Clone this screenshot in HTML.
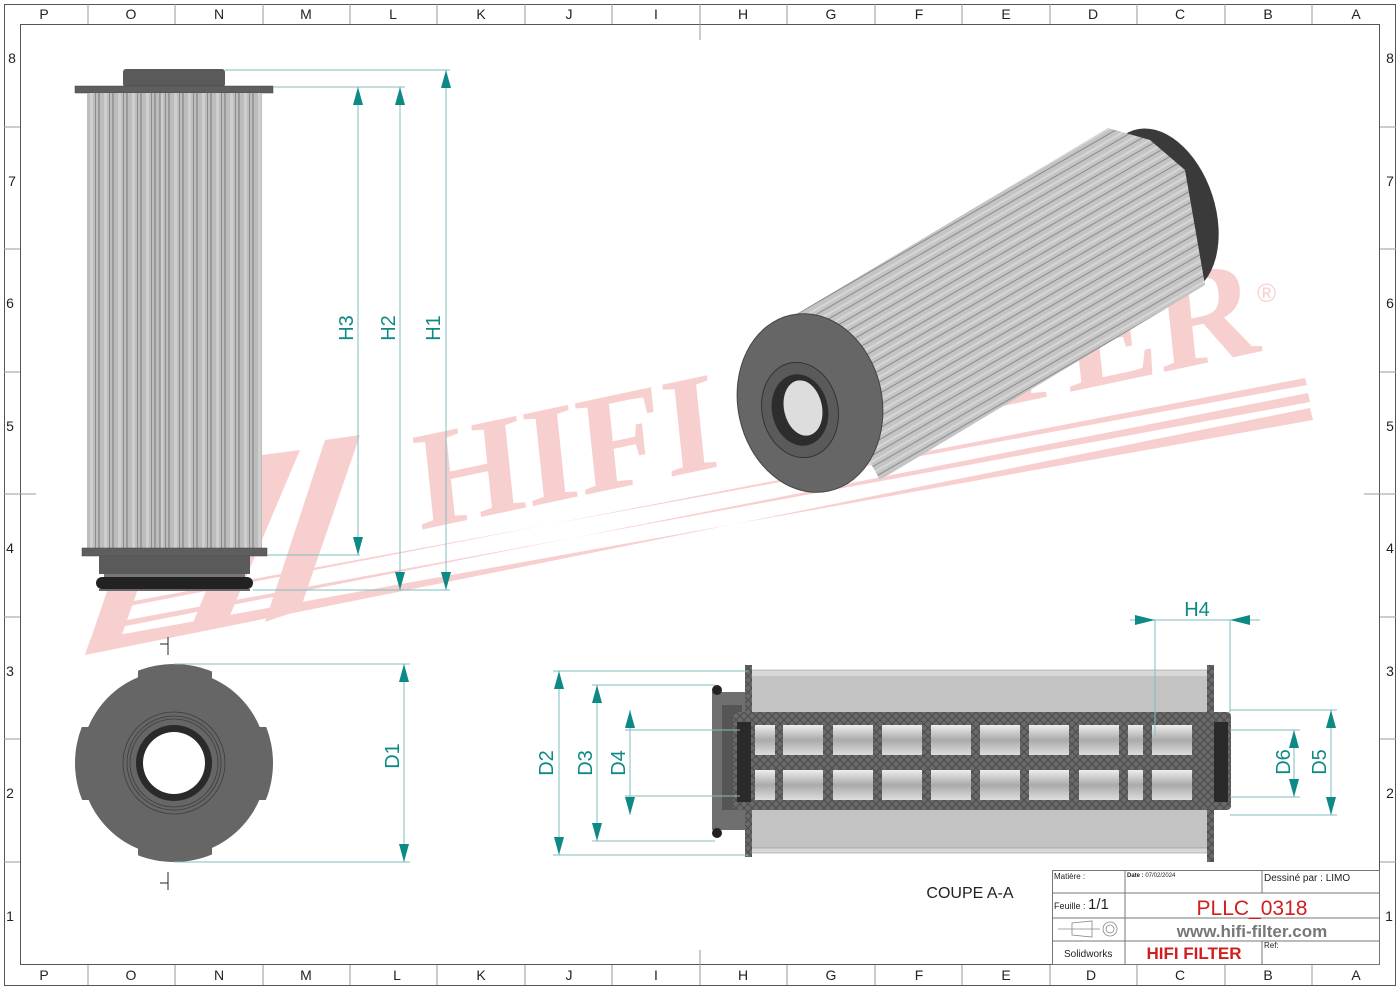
<!DOCTYPE html>
<html><head><meta charset="utf-8"><style>
html,body{margin:0;padding:0;background:#fff}
svg{display:block}
text{font-family:"Liberation Sans",sans-serif}
</style></head><body>
<svg width="1400" height="990" viewBox="0 0 1400 990" xmlns="http://www.w3.org/2000/svg">
<defs>
<pattern id="pl" width="14" height="10" patternUnits="userSpaceOnUse">
<rect width="14" height="10" fill="#bdbdbd"/><rect x="0" width="2" height="10" fill="#9a9a9a"/><rect x="6" width="3" height="10" fill="#cfcfcf"/><rect x="11" width="1" height="10" fill="#8d8d8d"/>
</pattern>
<pattern id="pl3" width="12" height="10" patternUnits="userSpaceOnUse" patternTransform="rotate(-30)">
<rect width="12" height="10" fill="#c4c4c4"/><rect y="0" width="12" height="1" fill="#8a8a8a"/><rect y="5" width="12" height="2" fill="#d6d6d6"/>
</pattern>
<pattern id="hat" width="8" height="8" patternUnits="userSpaceOnUse">
<rect width="8" height="8" fill="#6a6a6a"/><path d="M0 8L8 0M0 0L8 8" stroke="#4a4a4a" stroke-width="1"/>
</pattern>
<linearGradient id="slot" x1="0" y1="0" x2="0" y2="1"><stop offset="0" stop-color="#eee"/><stop offset=".5" stop-color="#aaa"/><stop offset="1" stop-color="#ddd"/></linearGradient>
<clipPath id="lugs"><rect x="138" y="650" width="74" height="230"/><rect x="60" y="727" width="230" height="73"/></clipPath>
</defs>

<!-- watermark -->
<g fill="#f7cfcf">
<polygon points="85,655 1310,408 1313,420 90,640"/>
<polygon points="95,632 1308,393 1310,402 100,625"/>
<polygon points="108,610 1305,378 1307,385 112,605"/>
<polygon points="87,650 145,480 180,470 120,640"/>
<polygon points="190,630 262,455 300,450 228,620"/>
<polygon points="265,622 325,440 360,435 300,610"/>
<text x="0" y="0" transform="translate(420,530) rotate(-12) skewX(-6)" style="font-family:'Liberation Serif',serif;font-weight:bold" font-size="140" textLength="860" lengthAdjust="spacingAndGlyphs" fill="#f7cfcf">HIFI FILTER</text>
<text x="1257" y="302" font-size="26" fill="#f7cfcf">®</text>
</g>

<!-- frame -->
<g stroke="#555" stroke-width="1" fill="none">
<rect x="4.5" y="4.5" width="1391" height="981"/>
<rect x="20.5" y="24.5" width="1359" height="940"/>
</g>
<g stroke="#999" stroke-width="1">
<path d="M88 4V24M175 4V24M263 4V24M350 4V24M437 4V24M525 4V24M612 4V24M700 4V40M787 4V24M875 4V24M962 4V24M1050 4V24M1137 4V24M1225 4V24M1312 4V24"/>
<path d="M88 965V985M175 965V985M263 965V985M350 965V985M437 965V985M525 965V985M612 965V985M700 950V985M787 965V985M875 965V985M962 965V985M1050 965V985M1137 965V985M1225 965V985M1312 965V985"/>
<path d="M4 127H20M4 249H20M4 372H20M4 494H36M4 617H20M4 739H20M4 862H20"/>
<path d="M1380 127H1396M1380 249H1396M1380 372H1396M1364 494H1396M1380 617H1396M1380 739H1396M1380 862H1396"/>
</g>
<g font-size="14" fill="#222" text-anchor="middle">
<text x="44" y="19">P</text><text x="131" y="19">O</text><text x="219" y="19">N</text><text x="306" y="19">M</text><text x="393" y="19">L</text><text x="481" y="19">K</text><text x="569" y="19">J</text><text x="656" y="19">I</text><text x="743" y="19">H</text><text x="831" y="19">G</text><text x="919" y="19">F</text><text x="1006" y="19">E</text><text x="1093" y="19">D</text><text x="1180" y="19">C</text><text x="1268" y="19">B</text><text x="1356" y="19">A</text>
<text x="44" y="980">P</text><text x="131" y="980">O</text><text x="219" y="980">N</text><text x="306" y="980">M</text><text x="397" y="980">L</text><text x="481" y="980">K</text><text x="569" y="980">J</text><text x="656" y="980">I</text><text x="743" y="980">H</text><text x="831" y="980">G</text><text x="919" y="980">F</text><text x="1006" y="980">E</text><text x="1091" y="980">D</text><text x="1180" y="980">C</text><text x="1268" y="980">B</text><text x="1356" y="980">A</text>
<text x="12" y="63">8</text><text x="12" y="186">7</text><text x="10" y="308">6</text><text x="10" y="431">5</text><text x="10" y="553">4</text><text x="10" y="676">3</text><text x="10" y="798">2</text><text x="10" y="921">1</text>
<text x="1390" y="63">8</text><text x="1390" y="186">7</text><text x="1390" y="308">6</text><text x="1390" y="431">5</text><text x="1390" y="553">4</text><text x="1390" y="676">3</text><text x="1390" y="798">2</text><text x="1389" y="921">1</text>
</g>

<!-- left elevation -->
<rect x="123" y="69" width="102" height="18" rx="3" fill="#5a5a5a"/>
<rect x="75" y="86" width="198" height="7" fill="#5e5e5e" stroke="#444" stroke-width=".5"/>
<rect x="87" y="93" width="175" height="455" fill="url(#pl)"/>
<line x1="160" y1="93" x2="160" y2="548" stroke="#777"/>
<rect x="82" y="548" width="185" height="8" fill="#5e5e5e" stroke="#444" stroke-width=".5"/>
<rect x="99" y="556" width="151" height="18" fill="#5a5a5a"/>
<rect x="104" y="574" width="141" height="4" fill="#777"/>
<rect x="96" y="577" width="157" height="12" rx="6" fill="#222"/>
<rect x="99" y="589" width="151" height="2" fill="#666"/>

<!-- H dims -->
<g stroke="#7fbfbf" stroke-width="1">
<path d="M225 70H450M273 87H405M267 555H360M253 590H450"/>
<path d="M358 87V555M400 87V590M446 70V590"/>
</g>
<g fill="#0e8a86">
<path d="M358 87l-5 18h10zM358 555l-5-18h10zM400 87l-5 18h10zM400 590l-5-18h10zM446 70l-5 18h10zM446 590l-5-18h10z"/>
</g>
<g font-size="20" fill="#0e8a86" text-anchor="middle">
<text transform="translate(353,328) rotate(-90)">H3</text>
<text transform="translate(395,328) rotate(-90)">H2</text>
<text transform="translate(440,328) rotate(-90)">H1</text>
</g>

<!-- end view -->
<circle cx="174" cy="763" r="93" fill="#666"/>
<circle cx="174" cy="763" r="99" fill="#666" clip-path="url(#lugs)"/>
<circle cx="174" cy="763" r="51" fill="none" stroke="#3d3d3d" stroke-width=".8"/>
<circle cx="174" cy="763" r="47" fill="none" stroke="#3d3d3d" stroke-width=".8"/>
<circle cx="174" cy="763" r="44" fill="none" stroke="#3d3d3d" stroke-width=".8"/>
<circle cx="174" cy="763" r="38" fill="#2a2a2a"/>
<circle cx="174" cy="763" r="31" fill="#fff"/>
<path d="M168 637V655M160 644H168M168 872V890M160 883H168" stroke="#222"/>
<g stroke="#7fbfbf"><path d="M174 664H410M174 862H410M404 664V862"/></g>
<path d="M404 664l-5 18h10zM404 862l-5-18h10z" fill="#0e8a86"/>
<text transform="translate(399,756) rotate(-90)" font-size="20" fill="#0e8a86" text-anchor="middle">D1</text>

<!-- iso view -->
<ellipse cx="1160" cy="212" rx="55" ry="86" transform="rotate(-18 1160 212)" fill="#3a3a3a"/>
<polygon points="790,318 1108,128 1150,140 1185,170 1205,285 880,480" fill="url(#pl3)"/>
<ellipse cx="810" cy="403" rx="72" ry="90" transform="rotate(-12 810 403)" fill="#666" stroke="#444"/>
<ellipse cx="800" cy="410" rx="38" ry="48" transform="rotate(-12 800 410)" fill="#5a5a5a" stroke="#333"/>
<ellipse cx="800" cy="410" rx="28" ry="36" transform="rotate(-12 800 410)" fill="#2d2d2d"/>
<ellipse cx="803" cy="408" rx="19" ry="28" transform="rotate(-12 803 408)" fill="#ddd"/>

<!-- section view -->
<g>
<rect x="748" y="670" width="462" height="7" fill="#d8d8d8" stroke="#888" stroke-width=".5"/>
<rect x="748" y="677" width="462" height="35" fill="#c3c3c3"/>
<rect x="748" y="808" width="462" height="42" fill="#c3c3c3"/>
<rect x="748" y="848" width="462" height="5" fill="#d8d8d8" stroke="#888" stroke-width=".5"/>
<rect x="745" y="665" width="7" height="192" fill="url(#hat)"/>
<rect x="1207" y="665" width="7" height="197" fill="url(#hat)"/>
<polygon points="712,692 745,692 745,830 712,830" fill="#6f6f6f"/>
<rect x="722" y="705" width="20" height="105" fill="#555"/>
<rect x="733" y="712" width="498" height="98" fill="url(#hat)" rx="4"/>
<rect x="737" y="722" width="14" height="80" fill="#2a2a2a"/>
<rect x="1214" y="722" width="14" height="80" fill="#2a2a2a"/>
<g fill="url(#slot)">
<rect x="755" y="725" width="20" height="30"/><rect x="783" y="725" width="40" height="30"/><rect x="833" y="725" width="40" height="30"/><rect x="882" y="725" width="40" height="30"/><rect x="931" y="725" width="40" height="30"/><rect x="980" y="725" width="40" height="30"/><rect x="1029" y="725" width="40" height="30"/><rect x="1079" y="725" width="40" height="30"/><rect x="1128" y="725" width="15" height="30"/><rect x="1152" y="725" width="40" height="30"/>
<rect x="755" y="770" width="20" height="30"/><rect x="783" y="770" width="40" height="30"/><rect x="833" y="770" width="40" height="30"/><rect x="882" y="770" width="40" height="30"/><rect x="931" y="770" width="40" height="30"/><rect x="980" y="770" width="40" height="30"/><rect x="1029" y="770" width="40" height="30"/><rect x="1079" y="770" width="40" height="30"/><rect x="1128" y="770" width="15" height="30"/><rect x="1152" y="770" width="40" height="30"/>
</g>
<circle cx="717" cy="690" r="5" fill="#222"/><circle cx="717" cy="833" r="5" fill="#222"/>
</g>
<g stroke="#7fbfbf">
<path d="M553 671H748M592 685H715M625 730H740M625 796H740M553 855H748M592 841H715"/>
<path d="M559 671V855M597 685V841M630 710V815"/>
<path d="M1230 730H1300M1230 797H1300M1230 710H1337M1230 815H1337M1294 730V797M1331 710V815"/>
<path d="M1155 620V735M1230 620V712M1130 620H1260"/>
</g>
<g fill="#0e8a86">
<path d="M559 671l-5 18h10zM559 855l-5-18h10zM597 685l-5 18h10zM597 841l-5-18h10zM630 710l-5 18h10zM630 815l-5-18h10z"/>
<path d="M1294 730l-5 18h10zM1294 797l-5-18h10zM1331 710l-5 18h10zM1331 815l-5-18h10z"/>
<path d="M1155 620l-20-5v10zM1230 620l20-5v10z"/>
</g>
<g font-size="20" fill="#0e8a86" text-anchor="middle">
<text transform="translate(553,763) rotate(-90)">D2</text>
<text transform="translate(592,763) rotate(-90)">D3</text>
<text transform="translate(625,763) rotate(-90)">D4</text>
<text transform="translate(1290,762) rotate(-90)">D6</text>
<text transform="translate(1326,762) rotate(-90)">D5</text>
<text x="1197" y="616">H4</text>
</g>
<text x="970" y="898" font-size="16" fill="#222" text-anchor="middle">COUPE A-A</text>

<!-- title block -->
<g stroke="#777" fill="none">
<rect x="1052.5" y="870.5" width="327" height="94"/>
<path d="M1052 893H1380M1052 918H1380M1052 941H1380M1125 870V893M1262 870V893M1125 941V965M1262 941V965M1125 893V941"/>
</g>
<g fill="#222">
<text x="1054" y="879" font-size="8">Matière :</text>
<text x="1127" y="877" font-size="6" font-weight="bold">Date : <tspan font-weight="normal">07/02/2024</tspan></text>
<text x="1264" y="881" font-size="10">Dessiné par : LIMO</text>
<text x="1054" y="909" font-size="9">Feuille : <tspan font-size="15">1/1</tspan></text>
<text x="1064" y="957" font-size="10">Solidworks</text>
<text x="1264" y="948" font-size="8">Ref:</text>
</g>
<text x="1252" y="915" font-size="21" fill="#d21e1e" text-anchor="middle">PLLC_0318</text>
<text x="1252" y="937" font-size="17" font-weight="bold" fill="#777" text-anchor="middle">www.hifi-filter.com</text>
<text x="1194" y="959" font-size="17" font-weight="bold" fill="#d21e1e" text-anchor="middle">HIFI FILTER</text>
<g stroke="#888" fill="none" stroke-width=".8">
<path d="M1058 929H1100M1072 923L1092 921V937L1072 935Z"/>
<circle cx="1110" cy="929" r="7"/><circle cx="1110" cy="929" r="4"/>
</g>
</svg>
</body></html>
